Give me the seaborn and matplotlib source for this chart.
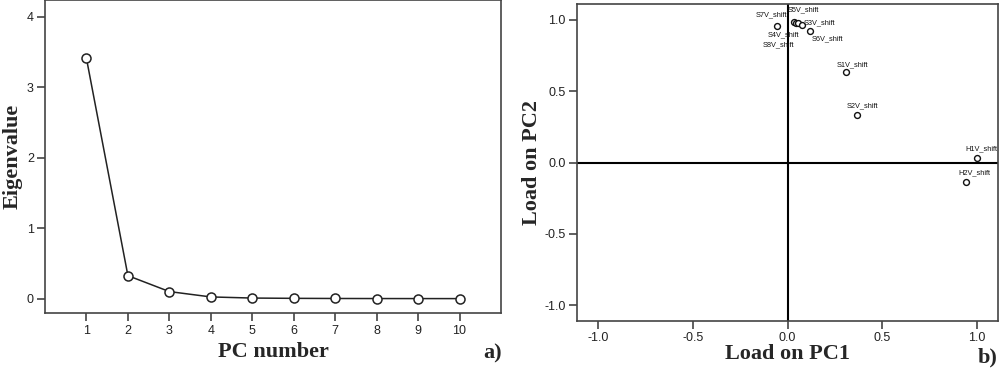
import numpy as np
import pandas as pd
import matplotlib.pyplot as plt
import seaborn as sns

sns.set_theme(style="ticks")
plt.rcParams['font.family'] = ['Liberation Sans', 'DejaVu Sans']
plt.rcParams['axes.unicode_minus'] = False

# scree plot data
pc_number = [1, 2, 3, 4, 5, 6, 7, 8, 9, 10]
eigenvalues = [3.41, 0.326, 0.10, 0.024, 0.008, 0.004, 0.002, 0.001, 0.0005, 0.0002]

# loading plot data
variables = ['S7V_shift', 'S5V_shift', 'S8V_shift', 'S4V_shift', 'S3V_shift',
             'S6V_shift', 'S1V_shift', 'S2V_shift', 'H1V_shift', 'H2V_shift']
load_pc1 = [-0.054, 0.035, 0.045, 0.058, 0.079, 0.119, 0.307, 0.365, 0.998, 0.942]
load_pc2 = [0.955, 0.985, 0.975, 0.975, 0.965, 0.920, 0.632, 0.330, 0.034, -0.138]

# label offsets in pixels (dx, dy) for the point labels
label_offsets = {
    'S7V_shift': (-6, 11), 'S5V_shift': (9, 12), 'S8V_shift': (-18, -21),
    'S4V_shift': (-15, -11), 'S3V_shift': (17, 2), 'S6V_shift': (17, -8),
    'S1V_shift': (7, 8), 'S2V_shift': (6, 10), 'H1V_shift': (5, 9),
    'H2V_shift': (8, 9),
}

scree = pd.DataFrame({'pc': pc_number, 'eig': eigenvalues})
loads = pd.DataFrame({'var': variables, 'pc1': load_pc1, 'pc2': load_pc2})

fig = plt.figure(figsize=(10, 3.74), dpi=100)
ax1 = fig.add_axes([0.045, 0.162, 0.456, 0.838])
ax2 = fig.add_axes([0.577, 0.142, 0.421, 0.847])

label_font = dict(family='Liberation Serif', fontweight='bold', fontsize=16)
spine_col = '#444444'

# a) scree plot
sns.lineplot(data=scree, x='pc', y='eig', ax=ax1, color='#222222', linewidth=1.1,
             marker='o', markersize=6.5, markerfacecolor='white',
             markeredgecolor='#222222', markeredgewidth=1.1)
ax1.set_xlim(0, 11)
ax1.set_ylim(-0.21, 4.24)
ax1.set_xticks(pc_number)
ax1.set_yticks([0, 1, 2, 3, 4])
ax1.set_xlabel('PC number', labelpad=4, **label_font)
ax1.set_ylabel('Eigenvalue', labelpad=3, **label_font)

# b) loading plot
ax2.axhline(0, color='black', linewidth=1.5, zorder=1)
ax2.axvline(0, color='black', linewidth=1.5, zorder=1)
sns.scatterplot(data=loads, x='pc1', y='pc2', ax=ax2, s=18, marker='o',
                facecolor='white', edgecolor='#111111', linewidth=1.0, zorder=3)
for v, x, y in zip(variables, load_pc1, load_pc2):
    dx, dy = label_offsets[v]
    ax2.annotate(v, (x, y), xytext=(dx, dy), textcoords='offset pixels',
                 ha='center', va='center', fontsize=5.3, color='#111111')
ax2.set_xlim(-1.11, 1.11)
ax2.set_ylim(-1.11, 1.11)
ax2.set_xticks([-1.0, -0.5, 0.0, 0.5, 1.0])
ax2.set_yticks([-1.0, -0.5, 0.0, 0.5, 1.0])
ax2.set_xticklabels(['-1.0', '-0.5', '0.0', '0.5', '1.0'])
ax2.set_yticklabels(['-1.0', '-0.5', '0.0', '0.5', '1.0'])
ax2.set_xlabel('Load on PC1', labelpad=0, **label_font)
ax2.set_ylabel('Load on PC2', labelpad=2, **label_font)

for ax in (ax1, ax2):
    for sp in ax.spines.values():
        sp.set_visible(True)
        sp.set_color(spine_col)
        sp.set_linewidth(1.2)
    ax.tick_params(direction='out', length=6, width=1.2, color=spine_col,
                   labelsize=9, labelcolor='#222222', pad=2)

fig.text(0.483, 0.055, 'a)', ha='left', va='center', **label_font)
fig.text(0.978, 0.045, 'b)', ha='left', va='center', **label_font)

fig.savefig('out.png', dpi=100)
